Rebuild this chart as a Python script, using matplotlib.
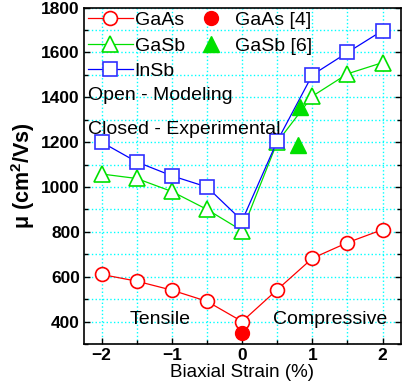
import numpy as np
import matplotlib.pyplot as plt
from matplotlib.ticker import MultipleLocator

plt.rcParams['font.family'] = ['Liberation Sans', 'DejaVu Sans']
plt.rcParams['mathtext.fontset'] = 'custom'
plt.rcParams['mathtext.rm'] = 'Liberation Sans'
plt.rcParams['mathtext.bf'] = 'Liberation Sans:bold'

strain = [-2, -1.5, -1, -0.5, 0, 0.5, 1, 1.5, 2]
gaas = [610, 580, 540, 490, 400, 542, 682, 752, 810]
gasb = [1058, 1038, 980, 900, 805, 1200, 1405, 1505, 1555]
insb = [1200, 1112, 1050, 1000, 850, 1205, 1500, 1600, 1698]

gaas_exp_x = [0]
gaas_exp_y = [350]
gasb_exp_x = [0.82, 0.8]
gasb_exp_y = [1355, 1188]


def main():
    fig = plt.figure(figsize=(4.12, 3.83), dpi=100)
    ax = fig.add_axes([0.204, 0.102, 0.769, 0.878])

    ax.plot(strain, gaas, '-o', color='red', mfc='white', mec='red', ms=10, lw=0.9, mew=1.2, label='GaAs')
    ax.plot(strain, gasb, '-^', color='#00e000', mfc='white', mec='#00e000', ms=12, lw=0.9, mew=1.2, label='GaSb')
    ax.plot(strain, insb, '-s', color='blue', mfc='white', mec='#3030ff', ms=10, lw=0.9, mew=1.2, label='InSb')
    ax.plot(gaas_exp_x, gaas_exp_y, 'o', color='red', ms=10, label='GaAs [4]')
    ax.plot(gasb_exp_x, gasb_exp_y, '^', color='#00e000', ms=12, label='GaSb [6]')

    ax.set_xlim(-2.25, 2.26)
    ax.set_ylim(300, 1800)
    ax.xaxis.set_major_locator(MultipleLocator(1))
    ax.xaxis.set_minor_locator(MultipleLocator(0.5))
    ax.yaxis.set_minor_locator(MultipleLocator(100))
    ax.set_yticks([400, 600, 800, 1000, 1200, 1400, 1600, 1800])
    ax.grid(True, which='both', color='cyan', linestyle=':', linewidth=1.0)
    ax.tick_params(which='both', direction='in', right=True, labelsize=12.5, width=1, pad=3)
    ax.tick_params(which='major', length=4)
    ax.tick_params(which='minor', length=3)
    for lab in ax.get_xticklabels() + ax.get_yticklabels():
        lab.set_fontweight('bold')
    for sp in ax.spines.values():
        sp.set_linewidth(1.2)

    ax.set_xlabel('Biaxial Strain (%)', fontsize=13.5, labelpad=1)
    ax.set_ylabel(r'$\mathbf{\mu}$ (cm$^\mathbf{2}$/Vs)', fontsize=15.5, fontweight='bold', labelpad=3)

    ax.legend(ncol=2, loc='upper left', frameon=False, fontsize=14, handlelength=2.3,
              handletextpad=0.1, columnspacing=0.2, labelspacing=0.4,
              borderaxespad=0.05, borderpad=0.15)

    ax.text(-2.2, 1410, 'Open - Modeling', fontsize=14, va='center', ha='left')
    ax.text(-2.2, 1255, 'Closed - Experimental', fontsize=14, va='center', ha='left')
    ax.text(-1.17, 410, 'Tensile', fontsize=14, va='center', ha='center')
    ax.text(1.25, 410, 'Compressive', fontsize=14, va='center', ha='center')

    fig.savefig('out.png', dpi=100)


if __name__ == '__main__':
    main()
